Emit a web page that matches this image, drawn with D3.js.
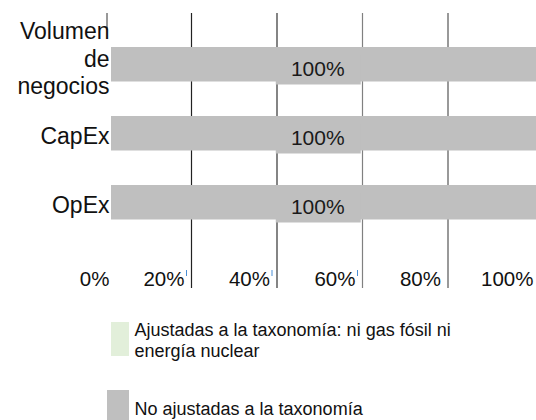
<!DOCTYPE html>
<html>
<head>
<meta charset="utf-8">
<script src="https://cdn.jsdelivr.net/npm/d3@7/dist/d3.min.js"></script>
<style>
  body { margin: 0; background: #fff; }
  svg { display: block; font-family: "Liberation Sans", Arial, sans-serif; }
</style>
</head>
<body>
<svg></svg>
<script>
// datos
let categorias = [["Volumen", "de", "negocios"], ["CapEx"], ["OpEx"]];
let ajustadas = [0, 0, 0];
let noAjustadas = [1, 1, 1];
let ticks = [0, 0.2, 0.4, 0.6, 0.8, 1];
let tickLabels = ["0%", "20%", "40%", "60%", "80%", "100%"];
let leyenda = [
	["Ajustadas a la taxonomía: ni gas fósil ni", "energía nuclear"],
	["No ajustadas a la taxonomía"]
];
let colores = ["#e2efda", "#bfbfbf"];
let gridColores = ["#333", "#222", "#333", "#808080", "#555"];

let svgWidth = 536;
let svgHeight = 420;

let svg = d3.select("svg")
	.attr("width", svgWidth)
	.attr("height", svgHeight);

let xScale = d3.scaleLinear()
	.domain([0, 1])
	.range([106, 533.5]);

let yScale = d3.scaleBand()
	.domain(d3.range(categorias.length))
	.range([29.75, 236.75])
	.paddingInner(0.5)
	.paddingOuter(0.25);

// gridlines
svg.selectAll("line.grid")
	.data(ticks.slice(1, 5))
	.enter()
	.append("line")
	.attr("class", "grid")
	.attr("x1", d => xScale(d))
	.attr("x2", d => xScale(d))
	.attr("y1", 13)
	.attr("y2", 288)
	.attr("stroke", (d, i) => gridColores[i + 1])
	.attr("stroke-width", 1.2);

// trozo de la linea del 0%
svg.append("line")
	.attr("x1", xScale(0) + 1)
	.attr("x2", xScale(0) + 1)
	.attr("y1", 13)
	.attr("y2", 30)
	.attr("stroke", "#333")
	.attr("stroke-width", 1);

// marcas azules pequenas
svg.selectAll("line.blue")
	.data(ticks.slice(1, 4))
	.enter()
	.append("line")
	.attr("x1", d => xScale(d) - 5)
	.attr("x2", d => xScale(d) - 5)
	.attr("y1", 270)
	.attr("y2", 276)
	.attr("stroke", "#4a8fd6")
	.attr("stroke-width", 1);

// barras (no ajustadas)
let bw = yScale.bandwidth();
svg.selectAll("rect.bar")
	.data(noAjustadas)
	.enter()
	.append("rect")
	.attr("class", "bar")
	.attr("x", xScale(0) + 5)
	.attr("y", (d, i) => yScale(i))
	.attr("width", d => xScale(d) - xScale(0))
	.attr("height", bw)
	.attr("fill", colores[1]);

// barras ajustadas (0%)
svg.selectAll("rect.bar0")
	.data(ajustadas)
	.enter()
	.append("rect")
	.attr("x", xScale(0) + 5)
	.attr("y", (d, i) => yScale(i))
	.attr("width", d => xScale(d) - xScale(0))
	.attr("height", bw)
	.attr("fill", colores[0]);

// etiquetas de las barras
svg.selectAll("rect.lbl")
	.data(noAjustadas)
	.enter()
	.append("rect")
	.attr("x", d => xScale(d / 2) - 44)
	.attr("y", (d, i) => yScale(i) + 8)
	.attr("width", 85)
	.attr("height", bw - 5)
	.attr("fill", colores[1]);

svg.selectAll("text.val")
	.data(noAjustadas)
	.enter()
	.append("text")
	.attr("x", d => xScale(d / 2) - 2)
	.attr("y", (d, i) => yScale(i) + bw / 2 + 12)
	.attr("text-anchor", "middle")
	.attr("font-size", 21)
	.attr("fill", "#1a1a1a")
	.text(d => Math.round(d * 100) + "%");

// categorias
let cat = svg.selectAll("text.cat")
	.data(categorias)
	.enter()
	.append("text")
	.attr("text-anchor", "end")
	.attr("font-size", 23)
	.attr("fill", "#111");

cat.selectAll("tspan")
	.data((d, i) => d.map(t => ({ t: t, n: d.length, i: i })))
	.enter()
	.append("tspan")
	.attr("x", 109.5)
	.attr("y", (d, j) => yScale(d.i) + bw / 2 + 11 - (d.n - 1) * 18 + j * 27.5)
	.text(d => d.t);

// etiquetas del eje
svg.selectAll("text.tick")
	.data(ticks)
	.enter()
	.append("text")
	.attr("x", (d, i) => i == 0 ? xScale(d) + 3.5 : i == ticks.length - 1 ? xScale(d) : xScale(d) - 7)
	.attr("y", 286)
	.attr("text-anchor", "end")
	.attr("font-size", 20.5)
	.attr("fill", "#111")
	.text((d, i) => tickLabels[i]);

// leyenda
let legY = [322, 390];
let legH = [34, 30];
let legX = [111, 107];
svg.selectAll("rect.leg")
	.data(leyenda)
	.enter()
	.append("rect")
	.attr("x", (d, i) => legX[i])
	.attr("y", (d, i) => legY[i])
	.attr("width", (d, i) => 129 - legX[i])
	.attr("height", (d, i) => legH[i])
	.attr("fill", (d, i) => colores[i]);

let leg = svg.selectAll("text.leg")
	.data(leyenda)
	.enter()
	.append("text")
	.attr("font-size", 18)
	.attr("fill", "#111");

leg.selectAll("tspan")
	.data((d, i) => d.map(t => ({ t: t, i: i })))
	.enter()
	.append("tspan")
	.attr("x", 134.5)
	.attr("y", (d, j) => [336, 415][d.i] + j * 21)
	.text(d => d.t);
</script>
</body>
</html>
